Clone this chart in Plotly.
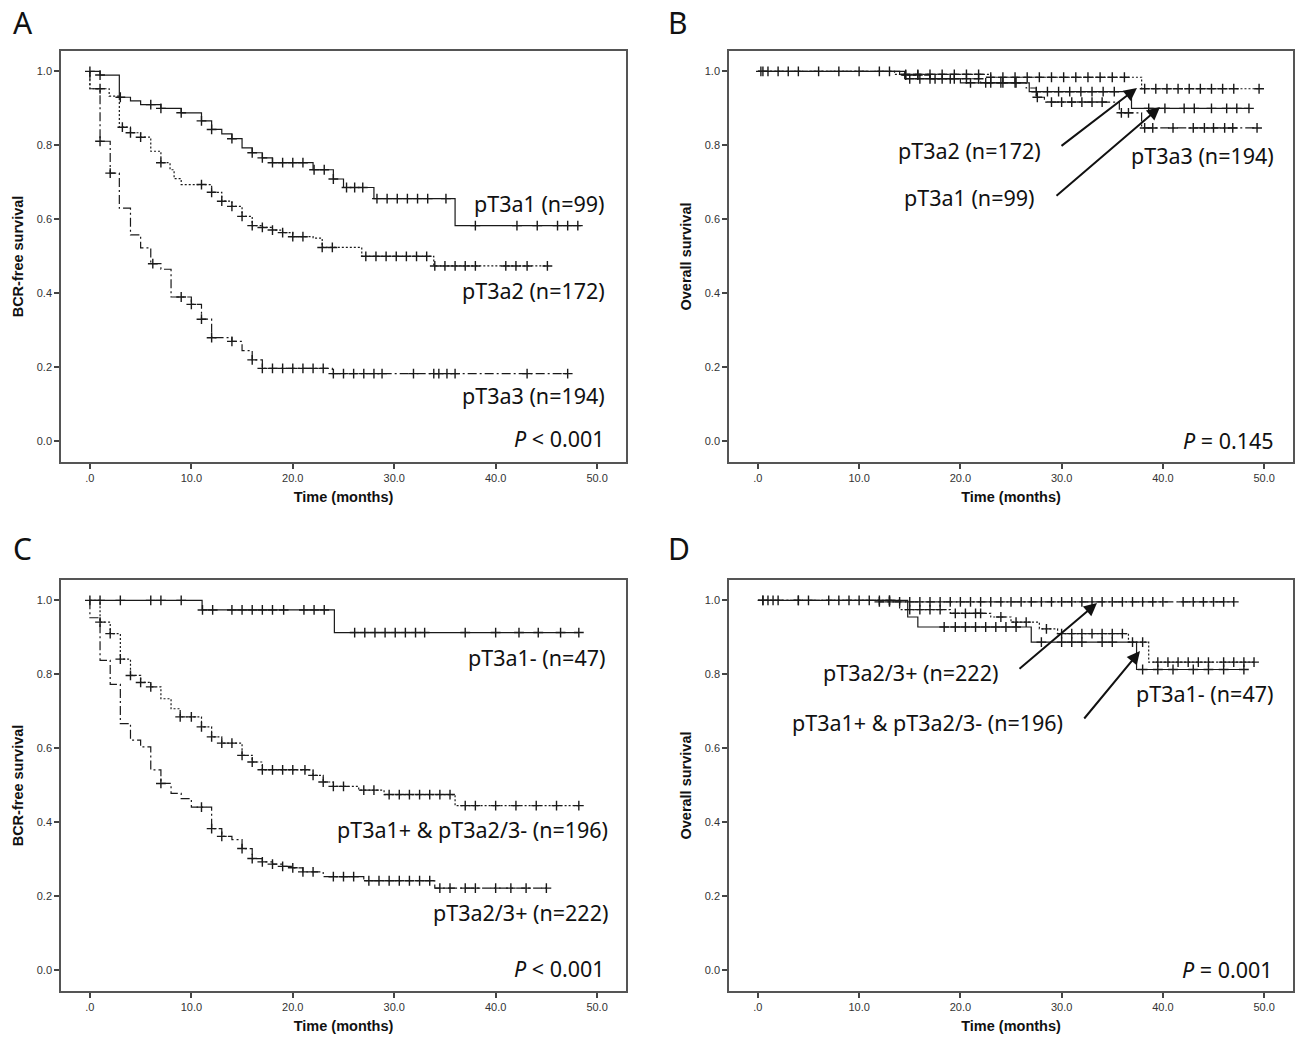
import plotly.graph_objects as go

# ---------------- data ----------------
# Panel A : BCR-free survival by pT3a subgroup
A_a1_t = [1.0, 2.9, 4.0, 5.0, 7.0, 9.0, 11.0, 12.0, 13.0, 14.0, 15.0, 16.0, 17.0, 18.0, 22.0, 24.0, 25.0, 28.0, 36.0]
A_a1_s = [0.990, 0.930, 0.920, 0.910, 0.900, 0.888, 0.866, 0.843, 0.831, 0.818, 0.793, 0.780, 0.766, 0.753, 0.734, 0.709, 0.686, 0.656, 0.583]
A_a1_c = [0, 1.0, 3.0, 6.0, 7.0, 9.0, 11.0, 12.0, 14.0, 16.0, 17.0, 18.0, 19.0, 20.0, 21.0, 22.1, 23.1, 24.0, 25.3, 26.1, 26.9,
          28.3, 29.3, 30.3, 31.3, 32.3, 33.3, 35.1, 38.0, 42.1, 44.1, 46.1, 47.1, 48.1]
A_a1_end = 48.4

A_a2_t = [0.0, 1.9, 2.9, 4.0, 5.0, 6.0, 7.0, 7.9, 8.3, 9.0, 12.0, 13.0, 14.0, 15.0, 16.0, 17.0, 18.0, 19.0, 20.0, 22.0, 22.9, 26.8, 33.9]
A_a2_s = [0.953, 0.933, 0.849, 0.834, 0.822, 0.784, 0.753, 0.734, 0.710, 0.694, 0.673, 0.649, 0.635, 0.608, 0.583, 0.578, 0.571, 0.564, 0.553, 0.549, 0.524, 0.500, 0.474]
A_a2_c = [1.0, 3.2, 4.0, 5.0, 7.0, 11.0, 12.0, 13.0, 14.0, 15.0, 16.0, 17.0, 18.0, 19.0, 20.0, 21.0, 22.9, 23.9,
          27.2, 28.2, 29.2, 30.2, 31.2, 32.2, 33.2, 34.0, 35.0, 36.0, 37.0, 38.0, 41.0, 42.0, 43.1, 45.1]
A_a2_end = 45.2

A_a3_t = [0.0, 1.0, 2.0, 2.9, 4.0, 5.0, 6.0, 7.0, 8.0, 10.0, 11.0, 12.0, 14.0, 15.0, 16.0, 17.0, 23.9]
A_a3_s = [0.953, 0.811, 0.725, 0.630, 0.558, 0.523, 0.480, 0.465, 0.390, 0.370, 0.330, 0.280, 0.270, 0.245, 0.220, 0.197, 0.183]
A_a3_c = [1.0, 2.0, 6.2, 9.0, 10.0, 11.0, 12.0, 14.0, 16.0, 17.0, 18.0, 19.0, 20.0, 21.0, 22.0, 23.0, 24.0, 25.0, 26.0,
          27.0, 28.0, 28.8, 31.9, 33.9, 34.4, 35.2, 36.0, 43.1, 47.1]
A_a3_end = 47.2

# Panel B : overall survival by pT3a subgroup
B_a1_t = [14.5, 20.0, 26.8, 36.9]
B_a1_s = [0.980, 0.969, 0.945, 0.900]
B_a1_c = [0.5, 3.0, 8.0, 15.0, 16.0, 17.5, 19.0, 21.0, 22.5, 24.0, 25.5, 27.5, 28.6, 29.7, 30.8, 31.9, 33.0, 34.1, 35.2,
          38.6, 40.2, 42.1, 43.1, 44.8, 46.3, 47.3, 48.5]
B_a1_end = 48.5

B_a2_t = [13.5, 23.0, 37.9]
B_a2_s = [0.992, 0.984, 0.953]
B_a2_c = [0.3, 2.0, 6.0, 10.0, 13.0, 14.6, 15.8, 17.0, 18.2, 19.4, 20.6, 21.8, 23.0, 24.2, 25.4, 26.6, 27.8, 29.0, 30.2,
          31.4, 32.6, 33.8, 35.0, 36.2, 38.2, 39.3, 40.4, 41.5, 42.6, 43.7, 44.8, 45.9, 47.0, 49.5]
B_a2_end = 49.5

B_a3_t = [14.0, 17.0, 22.0, 26.5, 27.5, 28.3, 35.7, 37.9]
B_a3_s = [0.990, 0.980, 0.969, 0.955, 0.930, 0.917, 0.888, 0.847]
B_a3_c = [1.0, 4.0, 12.0, 14.6, 15.8, 17.0, 18.2, 19.4, 20.6, 21.8, 23.0, 24.2, 25.4, 27.6, 29.0, 30.0, 31.0, 32.0, 33.0, 34.0,
          35.9, 36.6, 38.2, 39.0, 41.0, 43.0, 44.1, 45.0, 46.1, 46.9, 49.3]
B_a3_end = 49.3

# Panel C : BCR-free survival by combined groups
C_g1_t = [11.06, 24.1]
C_g1_s = [0.974, 0.913]
C_g1_c = [0, 1.0, 3.0, 6.0, 7.0, 9.0, 11.1, 12.1, 14.0, 15.0, 16.0, 17.0, 18.0, 19.1, 21.1, 22.1, 23.1,
          26.1, 27.1, 28.1, 29.1, 30.1, 31.1, 32.1, 33.0, 37.0, 40.0, 42.3, 44.2, 46.4, 48.2]
C_g1_end = 48.2

C_g2_t = [1.0, 2.0, 3.0, 4.0, 5.0, 6.0, 7.0, 8.0, 8.9, 11.0, 12.0, 13.0, 15.0, 16.0, 17.0, 22.0, 23.0, 24.0, 26.5, 29.0, 36.0]
C_g2_s = [0.941, 0.910, 0.841, 0.797, 0.778, 0.766, 0.734, 0.707, 0.685, 0.658, 0.631, 0.614, 0.581, 0.563, 0.542, 0.527, 0.509, 0.497, 0.487, 0.475, 0.445]
C_g2_c = [1.0, 2.0, 3.0, 4.0, 5.0, 6.0, 8.9, 10.0, 11.0, 12.0, 13.0, 14.0, 15.0, 16.0, 17.0, 18.0, 19.0, 20.0, 21.2,
          22.0, 23.0, 24.0, 25.0, 27.0, 28.0, 29.5, 30.5, 31.5, 32.5, 33.5, 34.5, 35.5, 37.0, 38.0, 40.0, 42.0, 44.0, 46.0, 48.2]
C_g2_end = 48.2

C_g3_t = [0.0, 1.0, 2.0, 3.0, 4.0, 5.0, 6.0, 7.0, 8.0, 9.0, 10.0, 12.0, 13.0, 14.0, 15.0, 16.0, 17.0, 18.0, 19.0, 20.0, 21.0, 23.0, 27.0, 34.0]
C_g3_s = [0.953, 0.838, 0.773, 0.667, 0.622, 0.604, 0.542, 0.505, 0.478, 0.464, 0.441, 0.383, 0.362, 0.353, 0.329, 0.302, 0.293, 0.287, 0.281, 0.277, 0.266, 0.253, 0.242, 0.222]
C_g3_c = [7.0, 11.0, 12.0, 13.0, 15.0, 16.0, 17.0, 18.0, 19.0, 20.0, 21.0, 22.0, 24.0, 25.0, 26.0, 27.5, 28.5, 29.5,
          30.5, 31.5, 32.5, 33.5, 34.5, 35.5, 37.0, 38.0, 40.0, 41.5, 43.0, 45.0]
C_g3_end = 45.0

# Panel D : overall survival by combined groups
D_g1_t = [14.8, 15.8, 27.0, 37.4]
D_g1_s = [0.955, 0.928, 0.887, 0.813]
D_g1_c = [0.5, 2.0, 5.0, 8.0, 13.0, 18.4, 19.5, 20.5, 21.5, 22.5, 23.5, 24.5, 25.5, 28.0, 30.0, 31.0, 32.0, 34.0, 35.0,
          38.0, 39.5, 41.0, 43.0, 44.5, 46.0, 48.0]
D_g1_end = 48.2

D_g2_t = [14.0, 19.0, 23.0, 25.0, 27.8, 29.6, 36.6, 38.6]
D_g2_s = [0.975, 0.965, 0.955, 0.941, 0.923, 0.910, 0.887, 0.833]
D_g2_c = [1.0, 4.0, 12.0, 13.0, 15.0, 16.0, 17.0, 18.0, 19.5, 20.5, 21.5, 22.0, 24.0, 25.5, 26.5, 28.5, 30.0, 31.0,
          32.0, 33.0, 34.0, 35.0, 36.0, 37.0, 38.0, 39.5, 40.5, 41.5, 42.5, 43.5, 44.5, 46.0, 47.0, 48.0, 49.0]
D_g2_end = 49.0

D_g3_t = [12.0]
D_g3_s = [0.996]
D_g3_c = [0.5, 1.5, 4.0, 7.0, 9.0, 10.0, 11.0, 12.0, 13.0, 14.0, 15.0, 16.0, 17.0, 18.0, 19.0, 20.0, 21.0, 22.0, 23.0,
          24.0, 25.0, 26.0, 27.0, 28.0, 29.0, 30.0, 31.0, 32.0, 33.0, 34.0, 35.0, 36.0, 37.0, 38.0, 39.0, 40.0,
          42.0, 43.0, 44.0, 45.0, 46.0, 47.0]
D_g3_end = 47.0

x_tick_vals = [0, 10, 20, 30, 40, 50]
x_tick_text = [".0", "10.0", "20.0", "30.0", "40.0", "50.0"]
y_tick_vals = [0.0, 0.2, 0.4, 0.6, 0.8, 1.0]
y_tick_text = ["0.0", "0.2", "0.4", "0.6", "0.8", "1.0"]

# ---------------- layout helpers ----------------
W, H = 1298, 1039
def px(x):
    return x / W
def py(y):
    return 1 - y / H

DASH = {"solid": "solid", "dot": "2px,2px", "dashdot": "9px,3px,2px,3px"}
INK = "#1a1a1a"

fig = go.Figure()

def km(ax, t, s, c, end, dash):
    xs = [0.0]
    ys = [1.0]
    for ti, si in zip(t, s):
        xs.append(ti)
        ys.append(si)
    xs.append(end)
    ys.append(s[-1])
    xa = "x" if ax == 1 else f"x{ax}"
    ya = "y" if ax == 1 else f"y{ax}"
    fig.add_trace(go.Scatter(x=xs, y=ys, mode="lines", line=dict(color=INK, width=1.2, dash=DASH[dash], shape="hv"),
                             xaxis=xa, yaxis=ya, showlegend=False, hoverinfo="skip"))
    cy = []
    for ci in c:
        v = 1.0
        for ti, si in zip(t, s):
            if ti <= ci:
                v = si
        cy.append(v)
    fig.add_trace(go.Scatter(x=c, y=cy, mode="markers",
                             marker=dict(symbol="cross-thin", size=7, line=dict(color=INK, width=1.4)),
                             xaxis=xa, yaxis=ya, showlegend=False, hoverinfo="skip"))

km(1, A_a1_t, A_a1_s, A_a1_c, A_a1_end, "solid")
km(1, A_a2_t, A_a2_s, A_a2_c, A_a2_end, "dot")
km(1, A_a3_t, A_a3_s, A_a3_c, A_a3_end, "dashdot")
km(2, B_a1_t, B_a1_s, B_a1_c, B_a1_end, "solid")
km(2, B_a2_t, B_a2_s, B_a2_c, B_a2_end, "dot")
km(2, B_a3_t, B_a3_s, B_a3_c, B_a3_end, "dashdot")
km(3, C_g1_t, C_g1_s, C_g1_c, C_g1_end, "solid")
km(3, C_g2_t, C_g2_s, C_g2_c, C_g2_end, "dot")
km(3, C_g3_t, C_g3_s, C_g3_c, C_g3_end, "dashdot")
km(4, D_g3_t, D_g3_s, D_g3_c, D_g3_end, "dashdot")
km(4, D_g2_t, D_g2_s, D_g2_c, D_g2_end, "dot")
km(4, D_g1_t, D_g1_s, D_g1_c, D_g1_end, "solid")

panels = {
    1: dict(x=(61, 626), y=(51, 462), ytitle="BCR-free survival"),
    2: dict(x=(729, 1293), y=(51, 462), ytitle="Overall survival"),
    3: dict(x=(61, 626), y=(580, 991), ytitle="BCR-free survival"),
    4: dict(x=(729, 1293), y=(580, 991), ytitle="Overall survival"),
}
tickfont = dict(family="Liberation Sans, Arial, sans-serif", size=11, color="#333")
titlefont = dict(family="Liberation Sans, Arial, sans-serif", size=14.5, color="#111")
layout_axes = {}
for k, p in panels.items():
    xn = "xaxis" if k == 1 else f"xaxis{k}"
    yn = "yaxis" if k == 1 else f"yaxis{k}"
    ya = "y" if k == 1 else f"y{k}"
    xa = "x" if k == 1 else f"x{k}"
    layout_axes[xn] = dict(domain=[px(p["x"][0]), px(p["x"][1])], anchor=ya, range=[-2.85, 52.85],
                           tickvals=x_tick_vals, ticktext=x_tick_text, ticks="outside", ticklen=5, tickwidth=1.5,
                           tickcolor="#444", showline=True, linecolor="#555", linewidth=1.5, mirror=True,
                           showgrid=False, zeroline=False, tickfont=tickfont,
                           title=dict(text="<b>Time (months)</b>", font=titlefont, standoff=9))
    layout_axes[yn] = dict(domain=[py(p["y"][1]), py(p["y"][0])], anchor=xa, range=[-0.056, 1.055],
                           tickvals=y_tick_vals, ticktext=y_tick_text, ticks="outside", ticklen=5, tickwidth=1.5,
                           tickcolor="#444", showline=True, linecolor="#555", linewidth=1.5, mirror=True,
                           showgrid=False, zeroline=False, tickfont=tickfont,
                           title=dict(text="<b>" + p["ytitle"] + "</b>", font=titlefont, standoff=10))

fig.update_layout(width=W, height=H, margin=dict(l=0, r=0, t=0, b=0), paper_bgcolor="white",
                  plot_bgcolor="white", **layout_axes)

LBL = dict(family="Noto Sans, Open Sans, sans-serif", size=21.5, color="#111")
ann = []
# panel letters
for letter, (xx, yy) in {"A": (11, 22), "B": (666, 22), "C": (11, 548), "D": (666, 548)}.items():
    ann.append(dict(text=letter, x=px(xx), y=py(yy), xref="paper", yref="paper", xanchor="left", yanchor="middle",
                    showarrow=False, font=dict(family="Noto Sans, sans-serif", size=30, color="#111")))

def label(text, xr, yc):
    ann.append(dict(text=text, x=px(xr), y=py(yc), xref="paper", yref="paper", xanchor="right", yanchor="middle",
                    showarrow=False, font=LBL))

label("pT3a1 (n=99)", 607, 204)
label("pT3a2 (n=172)", 607, 290)
label("pT3a3 (n=194)", 607, 396)
label("<i>P</i> < 0.001", 607, 438)
label("pT3a2 (n=172)", 1043, 150)
label("pT3a1 (n=99)", 1037, 198)
label("pT3a3 (n=194)", 1276, 155)
label("<i>P</i> = 0.145", 1276, 440)
label("pT3a1- (n=47)", 607, 657)
label("pT3a1+ & pT3a2/3- (n=196)", 610, 829)
label("pT3a2/3+ (n=222)", 610, 912)
label("<i>P</i> < 0.001", 607, 968)
label("pT3a2/3+ (n=222)", 1000, 672)
label("pT3a1+ & pT3a2/3- (n=196)", 1065, 722)
label("pT3a1- (n=47)", 1275, 693)
label("<i>P</i> = 0.001", 1275, 969)

def arrow(x0, y0, x1, y1):
    ann.append(dict(x=px(x1), y=py(y1), ax=x0 - x1, ay=y0 - y1, xref="paper", yref="paper", axref="pixel",
                    ayref="pixel", text="", showarrow=True, arrowhead=2, arrowsize=1.3, arrowwidth=2,
                    arrowcolor="#111"))

arrow(1060, 147, 1137, 88)
arrow(1055, 197, 1160, 107)
arrow(1018, 670, 1097, 603)
arrow(1083, 720, 1140, 651)

fig.update_layout(annotations=ann)
fig.write_html("out.html", config={"displayModeBar": False},
               post_script="document.body.style.margin='0px';")
